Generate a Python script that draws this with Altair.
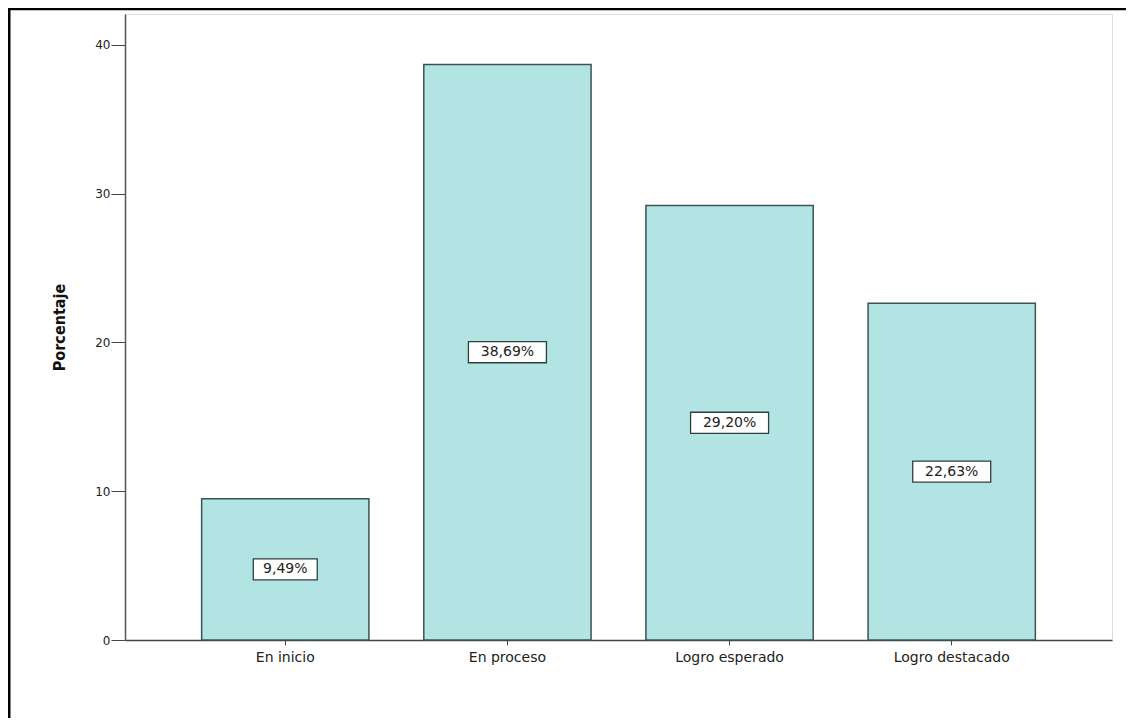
import altair as alt
import pandas as pd

categories = ["En inicio", "En proceso", "Logro esperado", "Logro destacado"]
values = [9.49, 38.69, 29.20, 22.63]
labels = ["9,49%", "38,69%", "29,20%", "22,63%"]
box_kind = ["narrow", "wide", "wide", "wide"]

df = pd.DataFrame({
    "cat": categories,
    "val": values,
    "mid": [v / 2 for v in values],
    "lab": labels,
    "box": box_kind,
})

W, H = 987, 626
YMAX = 42.08

xscale = alt.Scale(domain=categories, paddingInner=0.247, paddingOuter=0.345)
yscale = alt.Scale(domain=[0, YMAX], nice=False, zero=True)

base = alt.Chart(df)

bars = base.mark_bar(fill="#b2e4e4", stroke="#3d5252", strokeWidth=1.5).encode(
    x=alt.X("cat:N", scale=xscale, sort=categories, title=None,
            axis=alt.Axis(labelAngle=0, labelFont="DejaVu Sans", labelFontSize=14,
                          labelColor="#222", domainColor="#444", domainWidth=1.5,
                          tickColor="#444", tickSize=5, labelPadding=5)),
    y=alt.Y("val:Q", scale=yscale, title="Porcentaje",
            axis=alt.Axis(values=[0, 10, 20, 30, 40], grid=False, labelFont="DejaVu Sans",
                          labelFontSize=12, labelColor="#222", domainColor="#555",
                          domainWidth=1.5, tickColor="#444", tickSize=14, labelPadding=1,
                          titleFont="DejaVu Sans Condensed, Liberation Sans, sans-serif",
                          titleFontSize=16, titleFontWeight="bold", titleColor="#111",
                          titlePadding=27)),
)

wide = "M-1,-0.27 L1,-0.27 L1,0.27 L-1,0.27 Z"
narrow = "M-0.82,-0.27 L0.82,-0.27 L0.82,0.27 L-0.82,0.27 Z"

boxes = base.mark_point(filled=True, fill="white", stroke="#2f3f3f", strokeWidth=1.3,
                        opacity=1, size=6084).encode(
    x=alt.X("cat:N", scale=xscale, sort=categories),
    y=alt.Y("mid:Q", scale=yscale),
    shape=alt.Shape("box:N", scale=alt.Scale(domain=["narrow", "wide"], range=[narrow, wide]),
                    legend=None),
)

texts = base.mark_text(font="DejaVu Sans", fontSize=14, color="#222").encode(
    x=alt.X("cat:N", scale=xscale, sort=categories),
    y=alt.Y("mid:Q", scale=yscale),
    text="lab:N",
)

border_left = alt.Chart(pd.DataFrame({"a": [0]})).mark_rule(color="black", strokeWidth=3, clip=False).encode(
    x=alt.value(-116), y=alt.value(-6), y2=alt.value(H + 80)
)
border_top = alt.Chart(pd.DataFrame({"a": [0]})).mark_rule(color="black", strokeWidth=2.5, clip=False).encode(
    x=alt.value(-117), x2=alt.value(W + 16), y=alt.value(-5)
)

chart = alt.layer(bars, boxes, texts, border_left, border_top).properties(
    width=W, height=H,
    autosize=alt.AutoSizeParams(type="none"),
    padding={"left": 117, "top": 6, "right": 14, "bottom": 78},
).configure_view(stroke="#777", strokeWidth=1.5).configure(background="white")

chart.save("out.html", embed_options={"renderer": "svg", "actions": False})
